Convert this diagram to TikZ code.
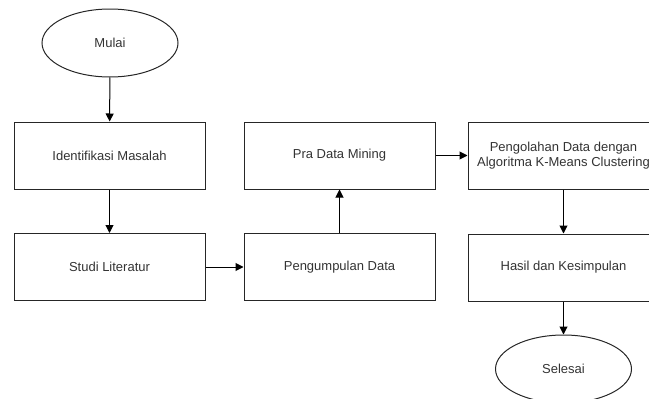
\documentclass[tikz,border=0pt]{standalone}
\usepackage{fontspec}
\setmainfont{Liberation Sans}
\usetikzlibrary{arrows.meta,shapes.geometric}
\begin{document}
\begin{tikzpicture}[x=1pt,y=-1pt,
  box/.style={draw=black!85,line width=1pt,minimum width=191pt,minimum height=67pt,inner sep=0pt,align=center,font=\fontsize{13}{15}\selectfont,text=black!80},
  term/.style={draw=black!85,line width=1pt,ellipse,minimum width=136pt,minimum height=68pt,inner sep=0pt,font=\fontsize{13}{15}\selectfont,text=black!80},
  conn/.style={draw=black,line width=1pt,-{Triangle[length=8pt,width=8pt]}}]
\useasboundingbox (0,0) rectangle (649,399);
\node[term] (mulai) at (110,43) {Mulai};
\node[box] (ident) at (109.5,155.5) {Identifikasi Masalah};
\node[box] (studi) at (109.5,267) {Studi Literatur};
\node[box] (kumpul) at (339.5,267) {Pengumpulan Data};
\node[box] (pra) at (339.5,155.5) {Pra Data Mining};
\node[box] (olah) at (563.5,155.5) {Pengolahan Data dengan\\Algoritma K-Means Clustering};
\node[box] (hasil) at (563.5,267.5) {Hasil dan Kesimpulan};
\node[term] (selesai) at (563.5,369) {Selesai};
\draw[conn] (mulai) -- (ident);
\draw[conn] (ident) -- (studi);
\draw[conn] (studi) -- (kumpul);
\draw[conn] (kumpul) -- (pra);
\draw[conn] (pra) -- (olah);
\draw[conn] (olah) -- (hasil);
\draw[conn] (hasil) -- (selesai);
\end{tikzpicture}
\end{document}
